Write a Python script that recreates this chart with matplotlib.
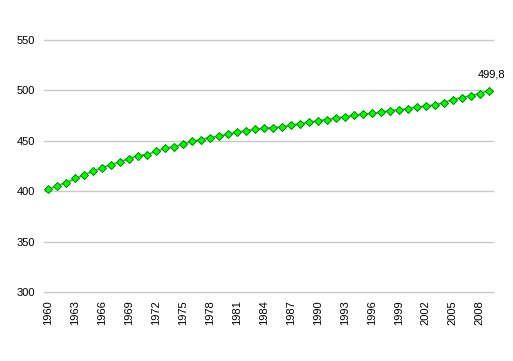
import matplotlib
matplotlib.use("Agg")
import matplotlib.pyplot as plt

years = list(range(1960, 2010))
values = [401.7, 405.6, 408.6, 412.6, 416.5, 419.8, 423.5, 426.4, 429.4, 432.4,
          435.3, 436.4, 439.6, 442.6, 444.3, 446.5, 449.5, 451.2, 453.2, 454.8,
          456.4, 458.4, 460.1, 461.4, 462.4, 463.0, 464.0, 465.3, 467.0, 468.3,
          470.0, 471.0, 472.6, 473.9, 475.2, 476.6, 477.2, 478.2, 479.9, 480.9,
          481.9, 483.5, 484.2, 485.8, 487.8, 490.8, 492.8, 494.8, 496.7, 499.8]
last_label = "499,8"

plt.rcParams['font.family'] = ['Liberation Sans', 'DejaVu Sans']

fig = plt.figure(figsize=(5.13, 3.61), dpi=100)
ax = fig.add_axes([44/513, 69/361, 449/513, 252/361])

idx = list(range(len(years)))
ax.plot(idx, values, color='#00e000', linewidth=1.2, marker='D', markersize=4.5,
        markerfacecolor='#00ff00', markeredgecolor='#008000', markeredgewidth=0.7)

ax.set_xlim(-0.5, len(years) - 0.5)
ax.set_ylim(300, 550)
ax.set_yticks(range(300, 551, 50))
ax.set_xticks(idx[::3])
ax.set_xticklabels([str(y) for y in years[::3]], rotation=90, fontsize=8)
ax.tick_params(axis='y', length=0, pad=6.5, labelsize=8)
ax.tick_params(axis='x', length=0, pad=6)
ax.grid(axis='y', color='#c8c8c8', linewidth=1)
for gl in ax.get_ygridlines():
    gl.set_clip_on(False)
ax.set_axisbelow(True)
for s in ax.spines.values():
    s.set_visible(False)

ax.annotate(last_label, xy=(idx[-1], values[-1]), xytext=(2, 8),
            textcoords='offset points', ha='center', va='bottom', fontsize=8)

fig.savefig("out.png", dpi=100)
